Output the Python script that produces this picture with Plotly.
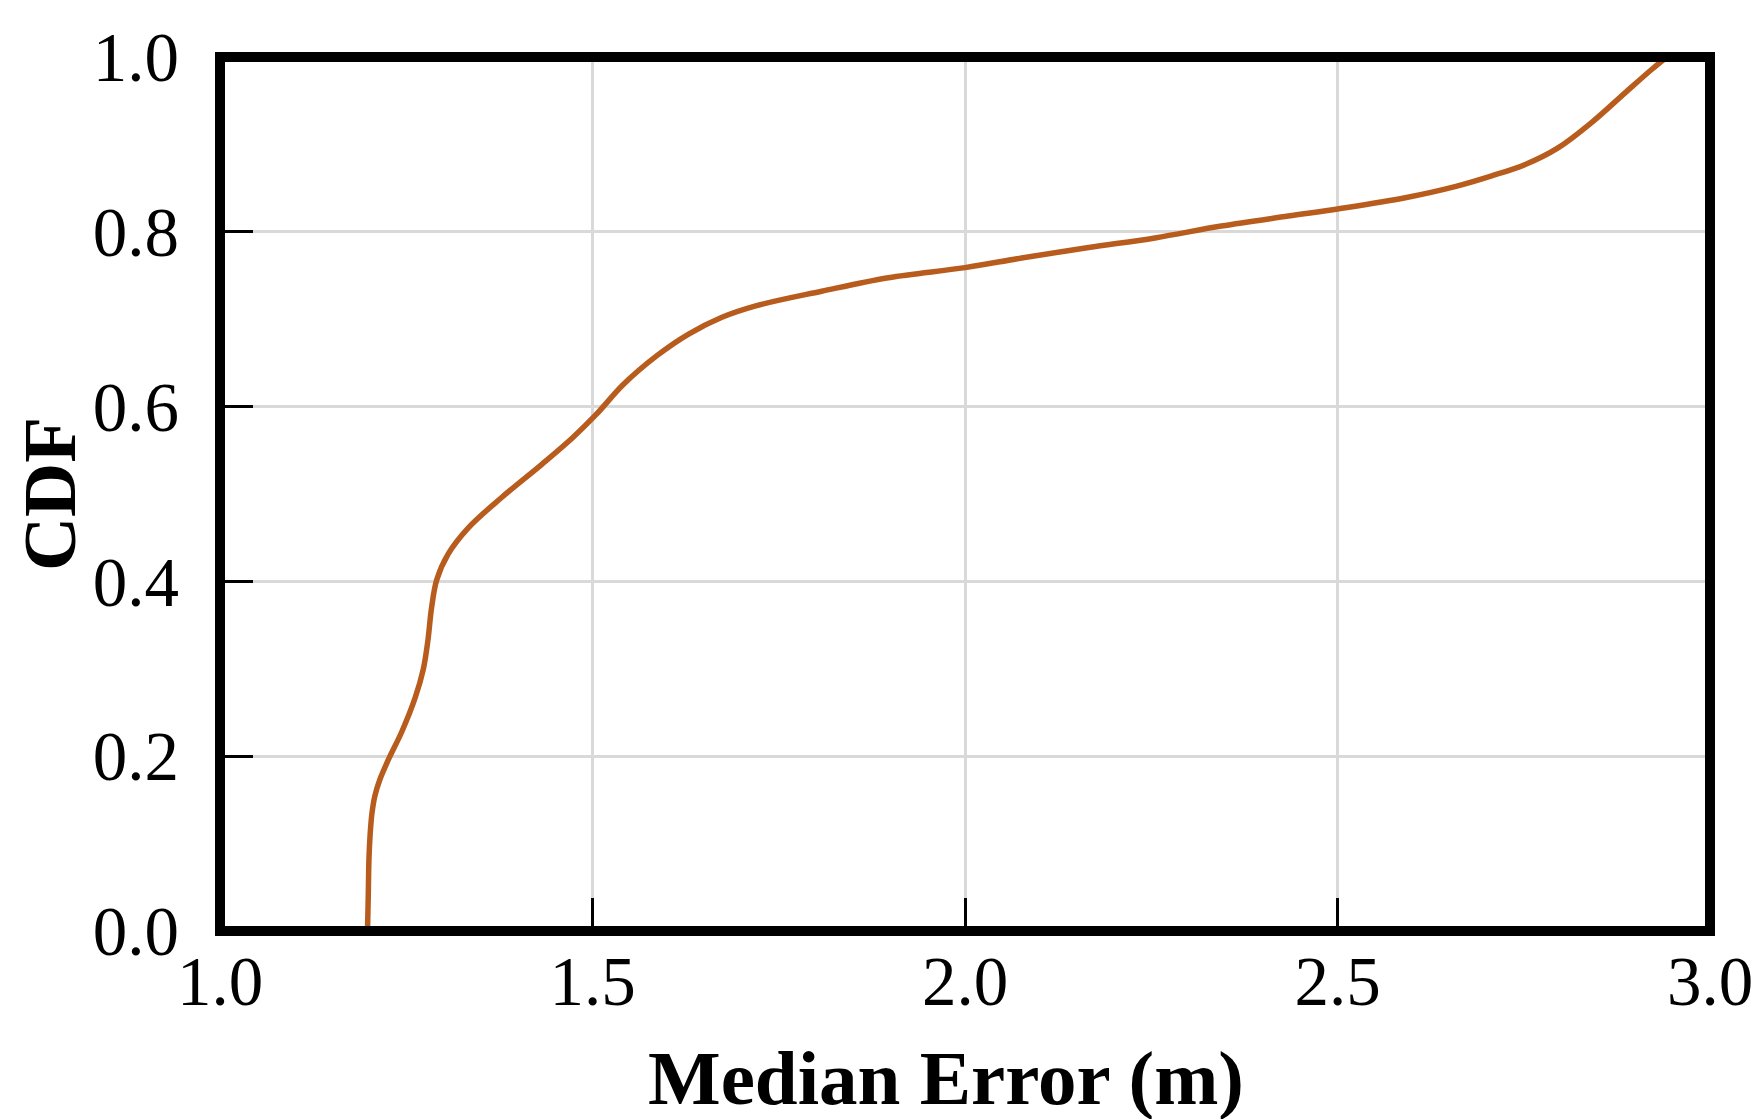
import plotly.graph_objects as go

# CDF curve (median error in metres vs cumulative fraction)
median_error = [1.198, 1.199, 1.200, 1.2015, 1.204, 1.208, 1.2145, 1.226, 1.244, 1.262,
                1.273, 1.279, 1.284, 1.291, 1.306, 1.333, 1.378, 1.432, 1.474, 1.505,
                1.541, 1.586, 1.629, 1.673, 1.718, 1.8075, 1.897, 2.0, 2.076, 2.166,
                2.255, 2.344, 2.434, 2.502, 2.591, 2.659, 2.707, 2.752, 2.796, 2.841,
                2.886, 2.922, 2.942]
cdf = [0.0, 0.04, 0.084, 0.110, 0.135, 0.155, 0.173, 0.196, 0.228, 0.267,
       0.300, 0.332, 0.370, 0.402, 0.431, 0.461, 0.496, 0.534, 0.565, 0.591,
       0.625, 0.658, 0.683, 0.702, 0.715, 0.732, 0.7475, 0.759, 0.770, 0.782,
       0.793, 0.8066, 0.818, 0.8264, 0.839, 0.852, 0.864, 0.877, 0.896, 0.925,
       0.959, 0.986, 1.0]

x_ticks = [1.0, 1.5, 2.0, 2.5, 3.0]
y_ticks = [0.0, 0.2, 0.4, 0.6, 0.8, 1.0]

serif = "Liberation Serif, Times New Roman, serif"

fig = go.Figure()
fig.add_trace(go.Scatter(x=median_error, y=cdf, mode="lines",
                         line=dict(color="#b85c1e", width=5.5, shape="spline", smoothing=1.0),
                         showlegend=False))

axis_common = dict(showgrid=True, gridcolor="#d9d9d9", gridwidth=3,
                   zeroline=False, showline=False, automargin=False,
                   ticks="inside", ticklen=33, tickwidth=3, tickcolor="black",
                   tickfont=dict(family=serif, size=69, color="black"))

fig.update_xaxes(range=[1.0, 3.0], tickvals=x_ticks, ticktext=[f"{v:.1f}" for v in x_ticks],
                 ticklabelstandoff=4, **axis_common)
fig.update_yaxes(range=[0.0, 1.0], tickvals=y_ticks, ticktext=[f"{v:.1f}" for v in y_ticks],
                 ticklabelstandoff=40,
                 title=dict(text="<b>CDF</b>", standoff=0,
                            font=dict(family=serif, size=75, color="black")),
                 **axis_common)

# x title sits a bit left of the plot centre in the original
fig.add_annotation(text="<b>Median Error (m)</b>", xref="paper", yref="paper",
                   x=0.4875, y=-0.168, xanchor="center", yanchor="middle",
                   showarrow=False, font=dict(family=serif, size=77, color="black"))

# heavy black frame around the plotting area
fig.add_shape(type="rect", xref="paper", yref="paper", x0=0, y0=0, x1=1, y1=1,
              line=dict(color="black", width=10), layer="above")

fig.update_layout(width=1761, height=1119,
                  margin=dict(l=212, r=59, t=49, b=196),
                  plot_bgcolor="white", paper_bgcolor="white")

fig.write_html("out.html")
